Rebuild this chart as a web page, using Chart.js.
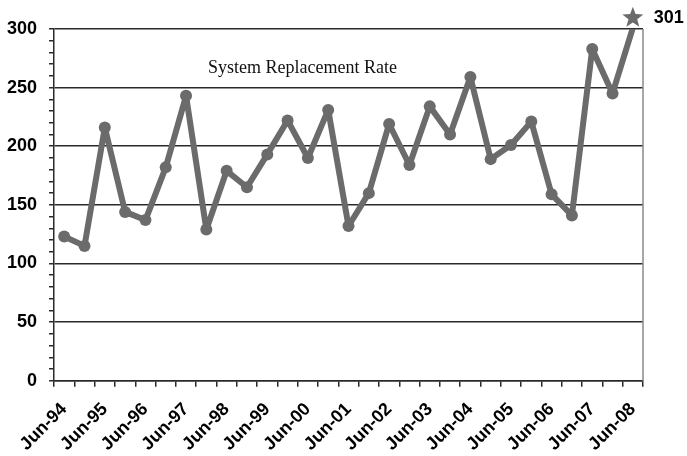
<!DOCTYPE html>
<html>
<head>
<meta charset="utf-8">
<script src="https://cdn.jsdelivr.net/npm/chart.js@4/dist/chart.umd.min.js"></script>
<style>
  html, body { margin: 0; padding: 0; background: #fff; }
  #wrap { width: 687px; height: 456px; }
</style>
</head>
<body>
<div id="wrap"><canvas id="c" width="687" height="456"></canvas></div>
<script>
// Half-year periods, June and December of each year
const periods = [
  'Jun-94','Dec-94','Jun-95','Dec-95','Jun-96','Dec-96','Jun-97','Dec-97',
  'Jun-98','Dec-98','Jun-99','Dec-99','Jun-00','Dec-00','Jun-01','Dec-01',
  'Jun-02','Dec-02','Jun-03','Dec-03','Jun-04','Dec-04','Jun-05','Dec-05',
  'Jun-06','Dec-06','Jun-07','Dec-07','Jun-08'
];
// Replacement rate for each period
const replacementRate = [
  123, 115, 216, 144, 137, 182, 243, 129,
  179, 165, 193, 222, 190, 231, 132, 160,
  219, 184, 234, 210, 259, 189, 201, 221,
  159, 141, 283, 245, 301
];
// Labelled axis values
const yMajorTicks = [0, 50, 100, 150, 200, 250, 300];

const chartTitle = 'System Replacement Rate';
const LINE = '#6b6b6b';
const INK = '#2a2a2a';

// Title written inside the plot area
const innerTitle = {
  id: 'innerTitle',
  afterDraw(chart) {
    const { ctx, chartArea: a } = chart;
    ctx.save();
    ctx.font = '18px "Liberation Serif", "Times New Roman", serif';
    ctx.fillStyle = '#111';
    ctx.textAlign = 'center';
    ctx.textBaseline = 'alphabetic';
    ctx.fillText(chartTitle, a.left + a.width * 0.422, a.top + 44);
    ctx.restore();
  }
};

// Right-hand frame line of the plot area
const rightFrame = {
  id: 'rightFrame',
  beforeDatasetsDraw(chart) {
    const { ctx, chartArea: a } = chart;
    ctx.save();
    ctx.strokeStyle = '#8a8a8a';
    ctx.lineWidth = 1.5;
    ctx.beginPath();
    ctx.moveTo(a.right, a.top);
    ctx.lineTo(a.right, a.bottom);
    ctx.stroke();
    ctx.restore();
  }
};

// Star and value callout on the latest period
const latestCallout = {
  id: 'latestCallout',
  afterDatasetsDraw(chart) {
    const meta = chart.getDatasetMeta(0);
    const last = meta.data[meta.data.length - 1];
    const value = replacementRate[replacementRate.length - 1];
    const { ctx } = chart;
    const cx = last.x, cy = last.y - 10;
    const outer = 11, inner = 4.6;
    ctx.save();
    ctx.fillStyle = LINE;
    ctx.beginPath();
    for (let i = 0; i < 10; i++) {
      const r = i % 2 === 0 ? outer : inner;
      const ang = -Math.PI / 2 + i * Math.PI / 5;
      const px = cx + r * Math.cos(ang), py = cy + r * Math.sin(ang);
      if (i === 0) ctx.moveTo(px, py); else ctx.lineTo(px, py);
    }
    ctx.closePath();
    ctx.fill();
    ctx.font = 'bold 18px "Liberation Sans", Arial, sans-serif';
    ctx.fillStyle = '#000';
    ctx.textAlign = 'left';
    ctx.textBaseline = 'middle';
    ctx.fillText(String(value), cx + 21, cy);
    ctx.restore();
  }
};

new Chart(document.getElementById('c'), {
  type: 'line',
  data: {
    labels: periods,
    datasets: [{
      data: replacementRate,
      borderColor: LINE,
      backgroundColor: LINE,
      borderWidth: 6,
      tension: 0,
      pointRadius: ctx => ctx.dataIndex === replacementRate.length - 1 ? 0 : 6,
      pointBackgroundColor: LINE,
      pointBorderColor: LINE,
      pointBorderWidth: 0,
      borderCapStyle: 'round',
      borderJoinStyle: 'round'
    }]
  },
  options: {
    responsive: false,
    animation: false,
    devicePixelRatio: 1,
    layout: { padding: { top: 29, right: 44, left: -5, bottom: 0 } },
    plugins: {
      legend: { display: false },
      title: { display: false },
      tooltip: { enabled: false }
    },
    scales: {
      x: {
        type: 'category',
        offset: true,
        // the rotated labels need less room than the measured box
        afterFit: scale => { scale.height -= 11; },
        grid: {
          offset: true,
          drawOnChartArea: false,
          color: INK,
          tickColor: INK,
          tickLength: 6,
          lineWidth: 1.5
        },
        border: { color: INK, width: 1.5 },
        ticks: {
          autoSkip: false,
          maxRotation: 45,
          minRotation: 45,
          padding: 12,
          color: '#000',
          font: { family: '"Liberation Sans", Arial, sans-serif', size: 18, weight: 'bold' },
          callback: (v, i) => periods[i].startsWith('Jun') ? periods[i] : ''
        }
      },
      y: {
        min: 0,
        max: 300,
        grid: {
          color: ctx => yMajorTicks.includes(ctx.tick.value) ? INK : 'rgba(0,0,0,0)',
          tickColor: INK,
          tickLength: 5,
          lineWidth: 1.5
        },
        border: { color: INK, width: 1.5 },
        ticks: {
          stepSize: 10,
          autoSkip: false,
          padding: 12,
          color: '#000',
          font: { family: '"Liberation Sans", Arial, sans-serif', size: 18, weight: 'bold' },
          callback: v => yMajorTicks.includes(v) ? String(v) : ''
        }
      }
    }
  },
  plugins: [rightFrame, innerTitle, latestCallout]
});
</script>
</body>
</html>
